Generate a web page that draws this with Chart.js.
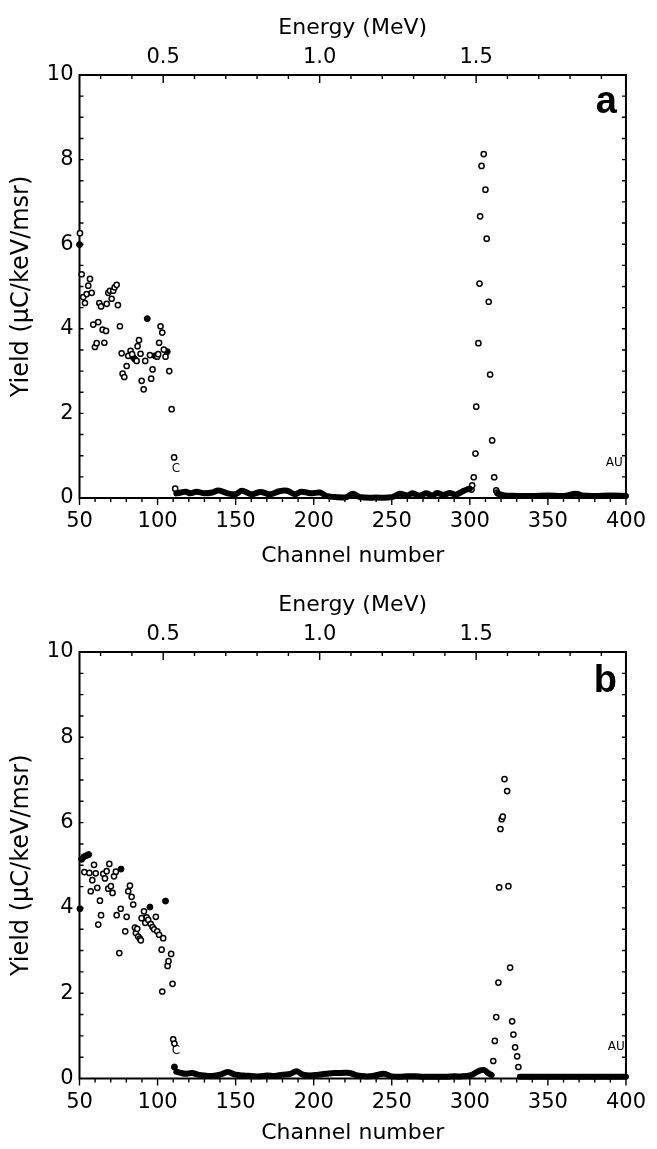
<!DOCTYPE html>
<html>
<head>
<meta charset="utf-8">
<script src="https://cdn.jsdelivr.net/npm/chart.js@4.4.0/dist/chart.umd.min.js"></script>
<style>
  html, body { margin: 0; padding: 0; background: #fff; }
  #wrap { position: relative; width: 657px; height: 1149px; }
  canvas { position: absolute; left: 0; }
</style>
</head>
<body>
<div id="wrap">
  <canvas id="chartA" width="657" height="578" style="top:0"></canvas>
  <canvas id="chartB" width="657" height="571" style="top:578px"></canvas>
</div>
<script>
// axis ticks
const channelTicks = [50, 100, 150, 200, 250, 300, 350, 400];
const yieldTicks = [0, 2, 4, 6, 8, 10];
const energyTicks = [0.5, 1.0, 1.5];
// energy calibration at the channel axis ends (MeV)
const energyRange = [0.2326, 1.9786];

// panel a: open circles
const aOpenCh = [50.3, 51.4, 52.4, 53.5, 54.6, 55.6, 56.7, 57.8, 58.8, 59.9, 61, 62, 62.7, 63.8, 64.8, 65.9, 67, 67.4, 68.4, 69.5,
  70.6, 71.6, 72.5, 73.8, 74.6, 75.9, 77, 77.6, 78.7, 80.2, 81.2, 82.7, 83.7, 86.6, 87.2, 88.1, 89.1, 89.8, 91.1, 92.1,
  95.1, 95.9, 96.8, 99.8, 100.4, 101, 101.9, 103, 104, 105.1, 107.5, 109, 110.6, 111.3,
  301.1, 301.5, 302.5, 303.6, 304.1, 305.5, 306.2, 306.6, 307.5, 308.9, 310.0, 310.8, 312.1, 313.0, 314.3, 315.6, 316.9, 317.5];
const aOpenY = [6.26, 5.29, 4.75, 4.61, 4.82, 5.02, 5.18, 4.85, 4.10, 3.57, 3.66, 4.16, 4.61, 4.53, 3.98, 3.67, 3.95, 4.59, 4.85, 4.90,
  4.71, 4.90, 4.98, 5.04, 4.56, 4.06, 3.42, 2.94, 2.86, 3.12, 3.36, 3.48, 3.40, 3.24, 3.59, 3.73, 3.41, 2.77, 2.57, 3.24,
  3.38, 2.82, 3.04, 3.34, 3.40, 3.67, 4.06, 3.91, 3.51, 3.34, 3.00, 2.10, 0.96, 0.22,
  0.20, 0.30, 0.49, 1.05, 2.16, 3.66, 5.07, 6.66, 7.85, 8.13, 7.29, 6.13, 4.64, 2.92, 1.36, 0.49, 0.18, 0.13];
// panel a: solid (overlapping) points
const aFillCh = [50, 84.5, 85.5, 93.4, 98.3, 106.2];
const aFillY = [5.99, 3.32, 3.28, 4.24, 3.36, 3.46];
// panel a: dense background band
const aBaseCh = [112, 115, 118, 121, 125, 130, 135, 139, 145, 150, 154, 160, 166, 172, 178, 183, 188, 192, 198, 204,
  208, 215, 221, 225, 230, 240, 250, 255, 260, 263, 268, 272, 276, 279, 283, 287, 291, 295, 298, 300,
  308, 318, 322, 330, 340, 350, 360, 368, 372, 380, 390, 400];
const aBaseY = [0.11, 0.13, 0.15, 0.11, 0.15, 0.11, 0.13, 0.18, 0.11, 0.09, 0.17, 0.09, 0.14, 0.09, 0.16, 0.17, 0.09, 0.15, 0.11, 0.13,
  0.05, 0.02, 0.02, 0.10, 0.02, 0.01, 0.02, 0.10, 0.06, 0.11, 0.06, 0.11, 0.06, 0.12, 0.07, 0.12, 0.08, 0.15, 0.20, 0.22,
  null, 0.10, 0.06, 0.05, 0.05, 0.06, 0.05, 0.10, 0.06, 0.05, 0.06, 0.05];

// panel b: open circles
const bOpenCh = [53.1, 56.3, 57.2, 58.2, 59.3, 60.4, 61.4, 62, 63.1, 63.8, 65.2, 66.3, 67.4, 68.4, 69.1, 70.1, 71.2, 72.1, 73.3, 73.8,
  75.5, 76.4, 79.3, 80.2, 81.2, 82.3, 83.4, 84.4, 85.5, 86.1, 87, 87.6, 88.7, 89.3, 89.8, 91.3, 92.1, 93, 94, 95.7,
  96.8, 97.8, 98.9, 99.8, 101, 102.6, 103, 103.6, 106.4, 107, 108.7, 109.6, 110, 110.8,
  315, 316, 316.9, 318.3, 318.8, 319.6, 320.4, 321.1, 322.2, 323.9, 324.7, 325.8, 327.1, 327.9, 329, 330.3, 331.1];
const bOpenY = [4.84, 4.82, 4.39, 4.65, 5.01, 4.81, 4.47, 3.61, 4.17, 3.83, 4.80, 4.69, 4.86, 4.45, 5.03, 4.51, 4.35, 4.74, 4.85, 3.83,
  2.94, 3.98, 3.45, 3.79, 4.39, 4.52, 4.26, 4.08, 3.54, 3.41, 3.51, 3.33, 3.28, 3.24, 3.76, 3.92, 3.65, 3.78, 3.72, 3.62,
  3.55, 3.50, 3.79, 3.45, 3.37, 3.02, 2.04, 3.29, 2.64, 2.75, 2.92, 2.22, 0.92, 0.82,
  0.41, 0.88, 1.44, 2.25, 4.48, 5.85, 6.08, 6.14, 7.02, 6.74, 4.51, 2.60, 1.34, 1.03, 0.73, 0.52, 0.27];
const bFillCh = [50.3, 51.4, 52.9, 54.6, 55.9, 76.6, 95.1, 105.1, 110.8];
const bFillY = [3.98, 5.14, 5.20, 5.23, 5.25, 4.91, 4.02, 4.16, 0.27];
const bBaseCh = [112, 115, 118, 122, 126, 130, 135, 140, 145, 150, 155, 160, 165, 170, 175, 180, 185, 189, 193, 198,
  203, 208, 213, 218, 223, 228, 233, 238, 245, 250, 255, 260, 265, 270, 275, 280, 285, 290, 295, 300,
  303, 306, 309, 312, 314, 322, 332, 340, 350, 360, 370, 380, 390, 400];
const bBaseY = [0.16, 0.13, 0.11, 0.13, 0.09, 0.07, 0.06, 0.09, 0.15, 0.09, 0.07, 0.06, 0.05, 0.07, 0.06, 0.09, 0.11, 0.17, 0.09, 0.07,
  0.09, 0.11, 0.13, 0.13, 0.13, 0.07, 0.05, 0.06, 0.11, 0.05, 0.04, 0.05, 0.05, 0.04, 0.04, 0.04, 0.04, 0.05, 0.05, 0.07,
  0.12, 0.18, 0.20, 0.12, 0.08, null, 0.04, 0.04, 0.04, 0.04, 0.04, 0.04, 0.04, 0.04];

const TICK_FONT = { family: 'DejaVu Sans', size: 21 };
const TITLE_FONT = { family: 'DejaVu Sans', size: 22 };
const YTITLE_FONT = { family: 'DejaVu Sans', size: 24 };

const pairs = (xs, ys) => xs.map((x, i) => ({ x: x, y: ys[i] }));

// frame, inward/minor ticks
const frameTicks = {
  id: 'frameTicks',
  beforeDatasetsDraw(chart) {
    const { ctx, chartArea: a, scales } = chart;
    const x = scales.x, y = scales.y, e = scales.xE;
    ctx.save();
    ctx.strokeStyle = '#000';
    ctx.lineWidth = 2;
    ctx.strokeRect(a.left, a.top, a.right - a.left, a.bottom - a.top);
    ctx.lineWidth = 1.4;
    ctx.beginPath();
    for (let c = 50; c <= 400; c += 10) {
      const px = x.getPixelForValue(c);
      const len = c % 50 === 0 ? 7 : 4;
      ctx.moveTo(px, a.bottom);
      ctx.lineTo(px, a.bottom + len);
    }
    for (let k = 3; k <= 19; k++) {
      const px = e.getPixelForValue(k / 10);
      const len = k % 5 === 0 ? 8 : 4;
      ctx.moveTo(px, a.top);
      ctx.lineTo(px, a.top + len);
    }
    for (let k = 1; k < 20; k++) {
      const py = y.getPixelForValue(k / 2);
      ctx.moveTo(a.left, py);
      ctx.lineTo(a.left + 4, py);
      ctx.moveTo(a.right, py);
      ctx.lineTo(a.right - 4, py);
    }
    ctx.stroke();
    ctx.restore();
  }
};

// panel letter and element markers
const panelText = {
  id: 'panelText',
  afterDatasetsDraw(chart, args, opts) {
    const { ctx, chartArea: a, scales } = chart;
    ctx.save();
    ctx.fillStyle = '#000';
    ctx.textAlign = 'right';
    ctx.textBaseline = 'alphabetic';
    ctx.font = 'bold 38px "Liberation Sans", Arial, sans-serif';
    ctx.fillText(opts.letter, a.right - 9, a.top + opts.letterDrop);
    ctx.font = '12px "DejaVu Sans"';
    ctx.textAlign = 'center';
    ctx.textBaseline = 'middle';
    opts.notes.forEach(n => {
      ctx.fillText(n.text, scales.x.getPixelForValue(n.x), scales.y.getPixelForValue(n.y));
    });
    ctx.restore();
  }
};

function makeChart(id, d, lay) {
  return new Chart(document.getElementById(id), {
    type: 'scatter',
    data: {
      datasets: [
        {
          data: pairs(d.baseCh, d.baseY), showLine: true, borderColor: '#000', borderWidth: 6,
          pointRadius: 0, tension: 0.35, spanGaps: false, borderCapStyle: 'round', borderJoinStyle: 'round', clip: false
        },
        {
          data: pairs(d.openCh, d.openY), pointRadius: 2.6, pointBorderWidth: 1.5,
          pointBorderColor: '#000', pointBackgroundColor: '#fff', clip: false
        },
        {
          data: pairs(d.fillCh, d.fillY), pointRadius: 3, pointBorderWidth: 1,
          pointBorderColor: '#000', pointBackgroundColor: '#000', clip: false
        }
      ]
    },
    options: {
      responsive: false,
      animation: false,
      devicePixelRatio: 1,
      layout: { padding: { left: 0, right: 30.3, top: 0, bottom: 0 } },
      plugins: {
        legend: { display: false },
        tooltip: { enabled: false },
        panelText: { letter: d.letter, letterDrop: lay.letterDrop, notes: d.notes }
      },
      scales: {
        x: {
          type: 'linear', position: 'bottom', min: 50, max: 400,
          afterBuildTicks: s => { s.ticks = channelTicks.map(v => ({ value: v })); },
          ticks: { font: TICK_FONT, color: '#000', padding: lay.xPad, maxRotation: 0 },
          grid: { display: false, drawTicks: false }, border: { display: false },
          title: { display: true, text: 'Channel number', font: TITLE_FONT, color: '#000', padding: { top: lay.xTitlePad, bottom: lay.xTitlePad } },
          afterFit: s => { s.height = lay.bottomH; }
        },
        xE: {
          type: 'linear', position: 'top', min: energyRange[0], max: energyRange[1],
          afterBuildTicks: s => { s.ticks = energyTicks.map(v => ({ value: v })); },
          ticks: { font: TICK_FONT, color: '#000', padding: lay.ePad, maxRotation: 0, callback: v => v.toFixed(1) },
          grid: { display: false, drawTicks: false }, border: { display: false },
          title: { display: true, text: 'Energy (MeV)', font: TITLE_FONT, color: '#000', padding: { top: lay.eTitlePad, bottom: lay.eTitlePad } },
          afterFit: s => { s.height = lay.topH; }
        },
        y: {
          type: 'linear', position: 'left', min: 0, max: 10,
          afterBuildTicks: s => { s.ticks = yieldTicks.map(v => ({ value: v })); },
          ticks: { font: TICK_FONT, color: '#000', padding: 6 },
          grid: { display: false, drawTicks: false }, border: { display: false },
          title: { display: true, text: 'Yield (μC/keV/msr)', font: YTITLE_FONT, color: '#000', padding: { top: 7, bottom: 7 } },
          afterFit: s => { s.width = 79.5; }
        }
      }
    },
    plugins: [frameTicks, panelText]
  });
}

makeChart('chartA', {
  openCh: aOpenCh, openY: aOpenY, fillCh: aFillCh, fillY: aFillY, baseCh: aBaseCh, baseY: aBaseY,
  letter: 'a', notes: [{ text: 'C', x: 111.7, y: 0.7 }, { text: 'AU', x: 392.5, y: 0.82 }]
}, { topH: 75, bottomH: 80, xPad: 11, xTitlePad: 9, ePad: 5, eTitlePad: 15, letterDrop: 38 });

makeChart('chartB', {
  openCh: bOpenCh, openY: bOpenY, fillCh: bFillCh, fillY: bFillY, baseCh: bBaseCh, baseY: bBaseY,
  letter: 'b', notes: [{ text: 'C', x: 111.7, y: 0.64 }, { text: 'AU', x: 393.8, y: 0.74 }]
}, { topH: 74, bottomH: 70.5, xPad: 11, xTitlePad: 3, ePad: 5, eTitlePad: 14, letterDrop: 40 });
</script>
</body>
</html>
